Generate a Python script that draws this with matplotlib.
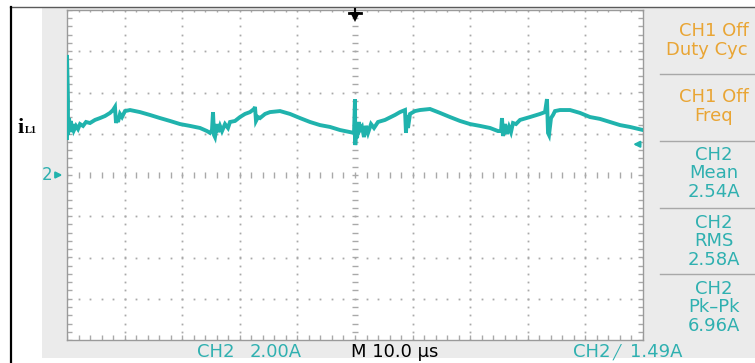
import numpy as np
import matplotlib
matplotlib.use("Agg")
import matplotlib.pyplot as plt

# ---------------- data (time in us, current in A) ----------------
time_us = [0.00, 0.00, 0.17, 0.17, 0.35, 0.52, 0.69, 0.87, 1.04, 1.22, 1.56, 1.91, 2.26, 2.78, 3.30,
           3.99, 4.86, 5.73, 6.60, 7.47, 7.99, 8.33, 8.51, 8.68, 8.85, 9.20, 9.55, 10.07, 10.94, 12.67,
           14.41, 16.15, 17.88, 19.62, 21.35, 23.09, 24.31, 24.83, 25.17, 25.35, 25.52, 25.69, 26.04,
           26.22, 26.56, 26.91, 27.43, 27.95, 28.30, 29.17, 30.03, 30.90, 31.77, 32.47, 32.64, 32.81,
           33.16, 33.51, 34.38, 35.24, 36.98, 38.72, 40.45, 42.19, 43.92, 45.66, 47.40, 49.13, 49.83,
           50.00, 50.05, 50.17, 50.35, 50.69, 50.87, 51.22, 51.56, 51.91, 52.26, 52.78, 53.30, 53.99,
           55.21, 56.94, 57.81, 58.68, 58.85, 59.03, 59.20, 59.55, 60.42, 61.28, 63.02, 64.76, 66.49,
           68.23, 69.97, 71.70, 73.44, 74.83, 75.35, 75.52, 75.69, 76.04, 76.39, 76.74, 77.08, 77.43,
           77.95, 78.65, 80.38, 82.12, 82.99, 83.33, 83.51, 83.68, 84.03, 84.38, 84.72, 85.59, 87.33,
           89.06, 90.80, 92.53, 94.27, 96.01, 97.74, 100.00]
current_a = [1.79, 5.82, 3.64, 1.94, 2.76, 2.18, 2.62, 2.08, 2.47, 2.18, 2.38, 2.23, 2.47, 2.38, 2.57,
             2.52, 2.67, 2.76, 2.86, 3.01, 3.15, 3.30, 2.52, 2.76, 2.57, 2.96, 2.81, 3.10, 3.15, 3.05,
             2.91, 2.76, 2.62, 2.47, 2.38, 2.28, 2.13, 2.04, 2.18, 3.05, 1.94, 1.84, 2.47,
             2.08, 2.38, 2.13, 2.47, 2.28, 2.57, 2.62, 2.81, 2.96, 3.05, 3.20, 3.30, 2.62,
             2.81, 2.76, 2.96, 3.05, 3.10, 2.96, 2.76, 2.57, 2.42, 2.33, 2.18, 2.08, 2.04,
             3.68, 1.45, 2.28, 1.79, 2.57, 2.18, 2.33, 1.84, 2.38, 2.04, 2.47, 2.28, 2.57,
             2.67, 2.91, 3.05, 3.15, 2.04, 2.91, 2.28, 2.96, 3.10, 3.15, 3.20, 3.01, 2.81,
             2.62, 2.47, 2.38, 2.28, 2.13, 2.13, 2.76, 1.89, 2.47, 1.99, 2.33, 2.08, 2.52,
             2.47, 2.67, 2.81, 2.96, 3.05, 3.68, 2.04, 1.94, 2.76, 2.91, 3.10, 3.15, 3.15,
             3.01, 2.81, 2.72, 2.57, 2.42, 2.33, 2.18]

volts_per_div = 2.0     # A/div
time_per_div = 10.0     # us/div
trigger_level = 1.49

TEAL = "#20b3ad"
TEAL_TXT = "#2fb0b0"
ORANGE = "#e9a534"
GRAY_BG = "#ebebeb"
GRID = "#a9a9a9"
FS = 13

W, H = 755, 363
fig = plt.figure(figsize=(W / 100, H / 100), dpi=100)
fig.patch.set_facecolor("white")

# background (pixel coordinates)
bg = fig.add_axes([0, 0, 1, 1])
bg.set_xlim(0, W)
bg.set_ylim(H, 0)
bg.axis("off")
bg.add_patch(plt.Rectangle((42, 8), W - 42, 350, facecolor=GRAY_BG, edgecolor="none"))
bg.plot([10, W], [7, 7], color="#5a5a5a", lw=1.0)
bg.plot([11, 11], [7, H], color="black", lw=1.6)
for ys in [74, 141, 208, 274]:
    bg.plot([660, W], [ys, ys], color="#a8a8a8", lw=1.0)

# right panel text
bg.text(714, 31, "CH1 Off", color=ORANGE, fontsize=FS, ha="center", va="center")
bg.text(666, 50, "Duty Cyc", color=ORANGE, fontsize=FS, ha="left", va="center")
bg.text(714, 97, "CH1 Off", color=ORANGE, fontsize=FS, ha="center", va="center")
bg.text(714, 116, "Freq", color=ORANGE, fontsize=FS, ha="center", va="center")
for y0, lines in [(155, ["CH2", "Mean", "2.54A"]), (223, ["CH2", "RMS", "2.58A"]), (289, ["CH2", "Pk\u2013Pk", "6.96A"])]:
    for k, s in enumerate(lines):
        bg.text(714, y0 + k * 18.5, s, color=TEAL_TXT, fontsize=FS, ha="center", va="center")

# bottom text
bg.text(197, 352, "CH2", color=TEAL_TXT, fontsize=FS, ha="left", va="center")
bg.text(250, 352, "2.00A", color=TEAL_TXT, fontsize=FS, ha="left", va="center")
bg.text(351, 352, "M 10.0 \u00b5s", color="black", fontsize=FS, ha="left", va="center")
bg.text(573, 352, "CH2", color=TEAL_TXT, fontsize=FS, ha="left", va="center")
bg.text(613, 352, "\u2571", color=TEAL_TXT, fontsize=10, ha="left", va="center")
bg.text(630, 352, "1.49A", color=TEAL_TXT, fontsize=FS, ha="left", va="center")

# i_L1 label
bg.text(17, 133, "i", fontsize=16, fontweight="bold", family="Liberation Serif", ha="left", va="baseline")
bg.text(25, 133, "L1", fontsize=7.5, fontweight="bold", family="Liberation Serif", ha="left", va="baseline")

# ---------------- scope screen ----------------
x0, x1, y0p, y1p = 67, 643, 10, 340
ax = fig.add_axes([x0 / W, 1 - y1p / H, (x1 - x0) / W, (y1p - y0p) / H])
ax.set_facecolor("white")
xmax = 10 * time_per_div
ymax = 4 * volts_per_div
ax.set_xlim(0, xmax)
ax.set_ylim(-ymax, ymax)
ax.set_xticks([])
ax.set_yticks([])
for sp in ax.spines.values():
    sp.set_color("#9a9a9a")
    sp.set_linewidth(1.0)

minor_x = np.arange(0, xmax + 1e-9, time_per_div / 5)
minor_y = np.arange(-ymax, ymax + 1e-9, volts_per_div / 5)
# dotted grid
for gx in np.arange(time_per_div, xmax, time_per_div):
    if abs(gx - xmax / 2) < 1e-6:
        continue
    ax.plot(np.full_like(minor_y, gx), minor_y, ls="none", marker="s", ms=1.3, color=GRID, mew=0)
for gy in np.arange(-ymax + volts_per_div, ymax, volts_per_div):
    if abs(gy) < 1e-6:
        continue
    ax.plot(minor_x, np.full_like(minor_x, gy), ls="none", marker="s", ms=1.3, color=GRID, mew=0)
# center cross ticks
ax.plot(np.full_like(minor_y, xmax / 2), minor_y, ls="none", marker="_", ms=4.5, mew=1.0, color=GRID)
ax.plot(minor_x, np.zeros_like(minor_x), ls="none", marker="|", ms=4.5, mew=1.0, color=GRID)
# edge ticks
ax.plot(np.zeros_like(minor_y), minor_y, ls="none", marker="_", ms=7, mew=1.0, color=GRID)
ax.plot(np.full_like(minor_y, xmax), minor_y, ls="none", marker="_", ms=7, mew=1.0, color=GRID)
ax.plot(minor_x, np.full_like(minor_x, -ymax), ls="none", marker="|", ms=7, mew=1.0, color=GRID)
ax.plot(minor_x, np.full_like(minor_x, ymax), ls="none", marker="|", ms=3, mew=1.0, color=GRID)

# trace
ax.plot(time_us, current_a, color=TEAL, lw=2.8, solid_joinstyle="miter", zorder=5)

# markers: ground, trigger level
ax.annotate("", xy=(-0.3, 0), xytext=(-2.4, 0), annotation_clip=False,
            arrowprops=dict(arrowstyle="-|>", color=TEAL, lw=1.5, mutation_scale=9))
ax.text(-2.5, 0, "2", color=TEAL_TXT, fontsize=12, ha="right", va="center", clip_on=False)
ax.annotate("", xy=(xmax - 2.2, trigger_level), xytext=(xmax, trigger_level), annotation_clip=False,
            arrowprops=dict(arrowstyle="-|>", color=TEAL, lw=1.5, mutation_scale=9))

# overlay for trigger-position marker (drawn above the screen)
ov = fig.add_axes([0, 0, 1, 1])
ov.set_xlim(0, W)
ov.set_ylim(H, 0)
ov.axis("off")
ov.patch.set_alpha(0)
ov.plot([349, 361], [13, 13], color="black", lw=2)
ov.plot([355, 355], [9, 13], color="black", lw=1.5)
ov.plot([355], [16.5], marker="v", ms=7, color="black", mew=0)

fig.savefig("out.png", dpi=100, facecolor="white")
